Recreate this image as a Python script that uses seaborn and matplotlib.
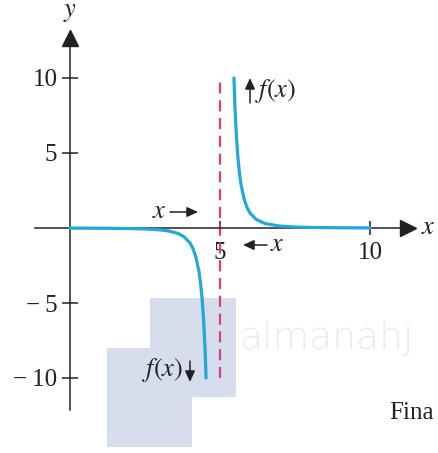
import matplotlib
matplotlib.use("Agg")
import matplotlib.pyplot as plt
import matplotlib.patches as mpatches
import seaborn as sns

# Left branch of f(x) approaching the vertical asymptote x = 5 from below
left_x = [0.0, 1.0, 2.0, 2.5, 3.0, 3.3, 3.6, 3.8, 4.0, 4.1, 4.2, 4.3, 4.35, 4.4, 4.45, 4.5, 4.536]
left_y = [-0.008, -0.016, -0.037, -0.064, -0.125, -0.204, -0.364, -0.579, -1.0, -1.372,
          -1.953, -2.915, -3.64, -4.63, -6.01, -8.0, -10.0]

# Right branch of f(x) leaving the asymptote from above
right_x = [5.465, 5.5, 5.55, 5.6, 5.65, 5.7, 5.8, 5.9, 6.0, 6.2, 6.5, 7.0, 7.5, 8.0, 9.0, 10.0]
right_y = [10.0, 8.0, 6.01, 4.63, 3.64, 2.915, 1.953, 1.372, 1.0, 0.579, 0.296, 0.125,
           0.064, 0.037, 0.016, 0.008]

asymptote_x = 5
asymptote_y = [-10, 10]

x_ticks = [5, 10]
x_tick_labels = ["5", "10"]
y_ticks = [-10, -5, 5, 10]
y_tick_labels = ["\u2212\u200910", "\u2212\u20095", "5", "10"]

sns.set_theme(style="white")
plt.rcParams["font.family"] = ["Liberation Serif", "DejaVu Serif"]
plt.rcParams["mathtext.fontset"] = "stix"

CURVE = "#1fa9dc"
DASH = "#d6407f"
INK = "#222222"
BOX = "#d6deed"


def px(xp):
    """Horizontal page pixel -> data x."""
    return (xp - 70) / 30


def py(yp):
    """Vertical page pixel -> data y."""
    return (228 - yp) / 15


fig = plt.figure(figsize=(4.38, 4.53), dpi=100)
ax = fig.add_axes([0, 0, 1, 1])
ax.set_xlim(px(0), px(438))
ax.set_ylim(py(453), py(0))

# Pale boxes in the lower part of the page
for (x0, y0, w, h) in [(150 / 438, 56 / 453, 86 / 438, 99 / 453),
                       (107 / 438, 6 / 453, 85 / 438, 99 / 453)]:
    ax.add_patch(mpatches.Rectangle((x0, y0), w, h, transform=ax.transAxes,
                                    facecolor=BOX, edgecolor="none", zorder=0))
ax.text(240 / 438, 115 / 453, "almanahj", transform=ax.transAxes,
        family="DejaVu Sans", fontsize=27, color="#e6ebf4", va="center",
        ha="left", zorder=0.5, fontweight="light")

# Axes drawn through the origin
for side in ["top", "right"]:
    ax.spines[side].set_visible(False)
ax.spines["left"].set_position(("data", 0))
ax.spines["bottom"].set_position(("data", 0))
ax.spines["left"].set_bounds(py(410), py(38))
ax.spines["bottom"].set_bounds(px(35), px(405))
for s in ["left", "bottom"]:
    ax.spines[s].set_color(INK)
    ax.spines[s].set_linewidth(1.1)
    ax.spines[s].set_zorder(3)

ax.plot([0], [py(38)], marker="^", markersize=11, color=INK, clip_on=False, zorder=4)
ax.plot([px(408)], [0], marker=">", markersize=11, color=INK, clip_on=False, zorder=4)

ax.set_xticks(x_ticks)
ax.set_xticklabels(x_tick_labels)
ax.set_yticks(y_ticks)
ax.set_yticklabels(y_tick_labels)
ax.tick_params(axis="x", direction="inout", length=10, width=1.1, color=INK,
               labelsize=18, pad=5, labelcolor=INK)
ax.tick_params(axis="y", direction="inout", length=12, width=1.1, color=INK,
               labelsize=18, pad=3, labelcolor=INK)
ax.tick_params(axis="both", which="both", bottom=True, left=True)
for lab in ax.get_xticklabels():
    lab.set_bbox(dict(facecolor="white", edgecolor="none", pad=1))
    lab.set_zorder(6)
ax.grid(False)

# Vertical asymptote
ax.plot([asymptote_x, asymptote_x], asymptote_y, color=DASH, lw=1.6,
        dashes=(5, 3), zorder=2)

# The two branches of the function
sns.lineplot(x=left_x, y=left_y, sort=False, color=CURVE, lw=2.3, ax=ax, zorder=5)
sns.lineplot(x=right_x, y=right_y, sort=False, color=CURVE, lw=2.3, ax=ax, zorder=5)

# Axis names
ax.text(0, py(13), "$y$", fontsize=19, ha="center", va="center", color=INK)
ax.text(px(428), 0, "$x$", fontsize=19, ha="center", va="center", color=INK)

# Direction annotations
arrow = dict(arrowstyle="-|>,head_length=0.55,head_width=0.25", color=INK, lw=1.1,
             shrinkA=0, shrinkB=0)
ax.text(px(152), py(212), "$x$", fontsize=19, ha="left", va="center", color=INK)
ax.annotate("", xy=(px(198), py(212)), xytext=(px(170), py(212)), arrowprops=arrow)

ax.annotate("", xy=(px(243), py(245)), xytext=(px(267), py(245)), arrowprops=arrow)
ax.text(px(270), py(245), "$x$", fontsize=19, ha="left", va="center", color=INK)

ax.annotate("", xy=(px(250), py(78)), xytext=(px(250), py(103)), arrowprops=arrow)
ax.text(px(255), py(91), "$f(x)$", fontsize=19, ha="left", va="center", color=INK)

ax.annotate("", xy=(px(190), py(382)), xytext=(px(190), py(361)), arrowprops=arrow)
ax.text(px(183), py(370), "$f(x)$", fontsize=19, ha="right", va="center", color=INK)

ax.text(389 / 438, 40 / 453, "Fina", transform=ax.transAxes, fontsize=18,
        ha="left", va="center", color=INK)

fig.savefig("out.png", dpi=100)
